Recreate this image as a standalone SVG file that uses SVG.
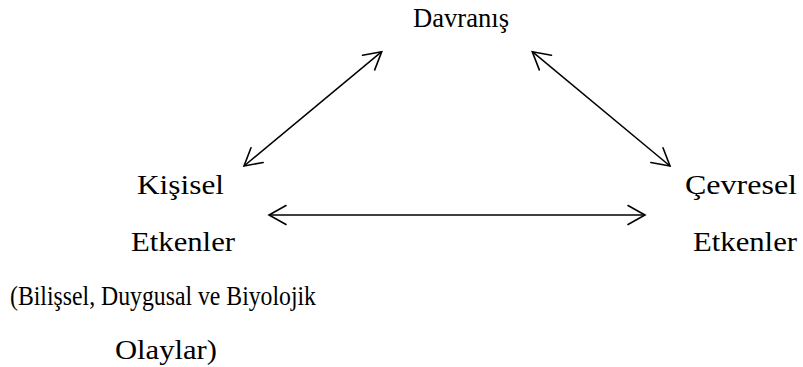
<svg xmlns="http://www.w3.org/2000/svg" width="803" height="367" viewBox="0 0 803 367">
<style>
text { font-family: "Liberation Serif", "Times New Roman", serif; font-size: 28px; fill: #000; }
.conn { stroke: #000; stroke-width: 1.5; fill: none; marker-start: url(#ah); marker-end: url(#ah); }
</style>
<defs>
<marker id="ah" viewBox="-20 -12 24 24" markerWidth="24" markerHeight="24" refX="0" refY="0" orient="auto-start-reverse" markerUnits="userSpaceOnUse">
<path d="M-17,-9.5 L0,0 L-17,9.5" fill="none" stroke="#000" stroke-width="1.6" stroke-linecap="round" stroke-linejoin="miter"/>
</marker>
</defs>
<rect width="803" height="367" fill="#fff"/>
<g id="connectors">
<line class="conn" x1="244" y1="166" x2="381.7" y2="51.7"/>
<line class="conn" x1="532.3" y1="51.7" x2="670" y2="166"/>
<line class="conn" x1="269" y1="215" x2="645" y2="215"/>
</g>
<g id="davranis">
<text x="413" y="27" textLength="96" lengthAdjust="spacingAndGlyphs">Davranış</text>
</g>
<g id="kisisel">
<text x="137" y="194" textLength="87" lengthAdjust="spacingAndGlyphs">Kişisel</text>
<text x="131" y="251" textLength="104" lengthAdjust="spacingAndGlyphs">Etkenler</text>
<text x="10" y="305" textLength="306" lengthAdjust="spacingAndGlyphs">(Bilişsel, Duygusal ve Biyolojik</text>
<text x="115" y="359" textLength="102" lengthAdjust="spacingAndGlyphs">Olaylar)</text>
</g>
<g id="cevresel">
<text x="685" y="194" textLength="112" lengthAdjust="spacingAndGlyphs">Çevresel</text>
<text x="693" y="251" textLength="104" lengthAdjust="spacingAndGlyphs">Etkenler</text>
</g>
</svg>
